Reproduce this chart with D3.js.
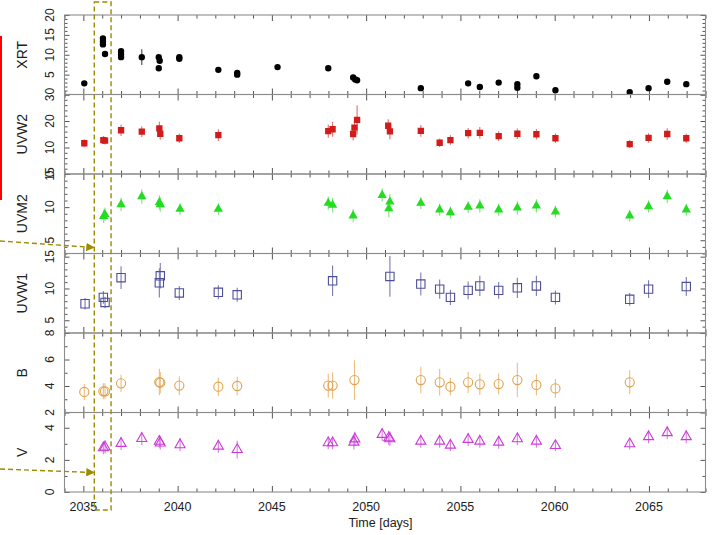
<!DOCTYPE html>
<html lang="en">
<head>
<meta charset="UTF-8"/>
<title>Multi-band light curves</title>
<script src="https://d3js.org/d3.v7.min.js"></script>
<style>
  body { margin: 0; background: #fff; }
  svg { display: block; font-family: "Liberation Sans", Arial, sans-serif; }
  .frame { stroke: #8c8c8c; stroke-width: 1.1; fill: none; }
  .ylab { font-size: 12px; fill: #222; }
  .ytitle { font-size: 14px; fill: #222; }
  .xlab { font-size: 12.5px; fill: #222; }
</style>
</head>
<body>
<svg id="chart" width="716" height="535"></svg>
<script>
// time axis
const xDomain = [2034, 2068];
const xLabels = [2035, 2040, 2045, 2050, 2055, 2060, 2065];

// XRT count rate
const tXRT = [2035.05, 2036.04, 2036.04, 2036.04, 2036.15, 2037.0, 2037.0, 2037.0, 2038.1, 2039.0, 2039.05, 2039.0,
  2040.09, 2040.09, 2042.16, 2043.16, 2043.16, 2045.3, 2047.99, 2049.31, 2049.42, 2049.52, 2052.9, 2055.41, 2056.03,
  2057.03, 2058.02, 2058.02, 2059.03, 2060.04, 2063.98, 2064.98, 2065.97, 2066.98];
const vXRT = [2.8, 14.1, 13.3, 12.6, 10.2, 10.9, 10.1, 9.4, 9.4, 9.4, 8.5, 6.6,
  9.4, 9.0, 6.2, 5.4, 5.0, 6.9, 6.6, 4.3, 3.8, 3.6, 1.6, 2.8, 1.9,
  3.0, 2.6, 1.7, 4.6, 1.1, 0.55, 1.6, 3.2, 2.6];
const eXRT = [0.3, 0.3, 0.3, 0.3, 0.3, 0.3, 0.3, 0.3, 2.0, 0.3, 0.3, 0.3,
  0.3, 0.3, 0.3, 0.3, 0.3, 0.3, 0.3, 0.3, 0.3, 0.3, 0.3, 0.3, 0.3,
  0.3, 0.3, 0.3, 0.3, 0.3, 0.3, 0.3, 0.3, 0.3];

// UVW2
const tUVW2 = [2035.05, 2036.06, 2036.15, 2037.0, 2038.1, 2039.03, 2039.08, 2040.09, 2042.16, 2047.99, 2048.22,
  2049.31, 2049.38, 2049.52, 2051.17, 2051.26, 2052.9, 2053.9, 2054.47, 2055.41, 2056.03, 2057.03, 2058.02,
  2059.03, 2060.04, 2063.98, 2064.98, 2065.97, 2066.98];
const vUVW2 = [11.6, 12.8, 12.6, 16.5, 16.0, 17.2, 15.2, 13.5, 14.7, 16.2, 16.9,
  15.1, 17.5, 20.4, 18.2, 16.1, 16.3, 11.8, 12.8, 15.4, 15.5, 14.3, 15.2,
  15.0, 13.5, 11.3, 13.6, 15.1, 13.5];
const eUVW2 = [1.5, 1.5, 1.5, 2.2, 2.0, 2.5, 2.3, 1.8, 2.2, 2.5, 2.8,
  2.5, 3.0, 5.5, 2.5, 3.0, 2.2, 1.6, 1.8, 2.0, 2.2, 1.8, 2.0,
  2.0, 1.8, 1.5, 1.8, 2.2, 1.8];

// UVM2
const tUVM2 = [2036.08, 2036.14, 2037.0, 2038.1, 2039.03, 2039.08, 2040.13, 2042.16, 2047.99, 2048.22, 2049.31,
  2050.85, 2051.2, 2051.26, 2052.9, 2053.9, 2054.47, 2055.41, 2056.03, 2057.03, 2058.02, 2059.03, 2060.04,
  2063.98, 2064.98, 2065.97, 2066.98];
const vUVM2 = [8.6, 8.9, 10.4, 11.6, 10.7, 10.4, 9.7, 9.7, 10.6, 10.3, 8.7,
  11.8, 9.8, 10.8, 10.6, 9.6, 9.2, 10.0, 10.2, 9.6, 9.9, 10.2, 9.3,
  8.7, 10.1, 11.6, 9.6];
const eUVM2 = [1.0, 1.0, 1.0, 1.1, 1.1, 1.1, 0.9, 0.9, 1.0, 1.1, 1.0,
  1.0, 1.3, 1.2, 0.9, 0.9, 0.9, 0.9, 1.0, 0.9, 1.0, 1.0, 0.9,
  0.9, 0.9, 1.0, 0.9];

// UVW1
const tUVW1 = [2035.09, 2036.06, 2036.15, 2037.0, 2039.03, 2039.08, 2040.09, 2042.16, 2043.16, 2048.22, 2051.26,
  2052.9, 2053.9, 2054.47, 2055.41, 2056.03, 2057.03, 2058.02, 2059.03, 2060.04, 2063.98, 2064.98, 2066.98];
const vUVW1 = [7.6, 8.6, 7.8, 11.7, 10.9, 12.0, 9.3, 9.4, 9.0, 11.2, 11.9,
  10.7, 9.9, 8.6, 9.7, 10.4, 9.7, 10.1, 10.4, 8.6, 8.3, 9.9, 10.3];
const eUVW1 = [0.9, 1.0, 0.9, 1.8, 2.3, 2.0, 1.1, 1.1, 1.1, 2.4, 3.2,
  1.8, 1.5, 1.2, 1.4, 1.6, 1.3, 1.6, 1.6, 1.1, 1.0, 1.4, 1.5];

// B
const tB = [2035.05, 2036.06, 2036.15, 2037.0, 2039.03, 2039.08, 2040.09, 2042.16, 2043.16, 2047.99, 2048.22,
  2049.38, 2052.9, 2053.9, 2054.47, 2055.41, 2056.03, 2057.03, 2058.02, 2059.03, 2060.04, 2063.98];
const vB = [3.55, 3.6, 3.6, 4.2, 4.3, 4.25, 4.03, 3.95, 4.0, 4.03, 4.03,
  4.45, 4.45, 4.28, 3.95, 4.28, 4.13, 4.15, 4.45, 4.08, 3.82, 4.28];
const eB = [0.6, 0.6, 0.6, 0.65, 1.0, 0.8, 0.7, 0.7, 0.7, 0.9, 1.0,
  1.5, 1.0, 1.0, 0.65, 0.8, 0.8, 0.8, 1.3, 0.8, 0.7, 0.9];

// V
const tV = [2036.06, 2036.15, 2037.0, 2038.1, 2039.03, 2039.08, 2040.13, 2042.16, 2043.16, 2047.99, 2048.22,
  2049.35, 2049.4, 2050.85, 2051.2, 2051.26, 2052.9, 2053.9, 2054.47, 2055.41, 2056.03, 2057.03, 2058.02,
  2059.03, 2060.04, 2063.98, 2064.98, 2065.97, 2066.98];
const vV = [2.75, 2.8, 3.02, 3.33, 3.15, 3.05, 2.94, 2.85, 2.64, 3.06, 3.06,
  3.1, 3.3, 3.58, 3.37, 3.31, 3.16, 3.16, 2.91, 3.27, 3.16, 3.1, 3.31,
  3.16, 2.89, 3.0, 3.44, 3.69, 3.44];
const eV = [0.4, 0.4, 0.4, 0.4, 0.4, 0.4, 0.4, 0.4, 0.55, 0.4, 0.4,
  0.45, 0.45, 0.4, 0.45, 0.45, 0.4, 0.4, 0.35, 0.4, 0.4, 0.4, 0.4,
  0.4, 0.35, 0.35, 0.4, 0.4, 0.4];

// panel settings, built from the arrays above
const panels = [
  { name: 'XRT',  t: tXRT, v: vXRT, e: eXRT, dom: [0, 20], labels: [5, 10, 15, 20], majors: [0, 5, 10, 15, 20], step: 1,
    sym: d3.symbolCircle, size: 32, fill: '#000', stroke: 'none', ecol: '#444' },
  { name: 'UVW2', t: tUVW2, v: vUVW2, e: eUVW2, dom: [0, 30], labels: [0, 10, 20, 30], majors: [0, 10, 20, 30], step: 2,
    sym: d3.symbolSquare, size: 40, fill: '#d21c1c', stroke: 'none', ecol: '#e27070' },
  { name: 'UVM2', t: tUVM2, v: vUVM2, e: eUVM2, dom: [3, 15], labels: [5, 10, 15], majors: [5, 10, 15], step: 1,
    sym: d3.symbolTriangle, size: 38, fill: '#22dd22', stroke: 'none', ecol: '#80e080' },
  { name: 'UVW1', t: tUVW1, v: vUVW1, e: eUVW1, dom: [3, 15.5], labels: [5, 10, 15], majors: [5, 10, 15], step: 1,
    sym: d3.symbolSquare, size: 70, fill: 'none', stroke: '#4d4d99', ecol: '#7a7ab5' },
  { name: 'B',    t: tB, v: vB, e: eB, dom: [2, 8], labels: [2, 4, 6, 8], majors: [2, 4, 6, 8], step: 1,
    sym: d3.symbolCircle, size: 66, fill: 'none', stroke: '#e0a24f', ecol: '#ebbd7e' },
  { name: 'V',    t: tV, v: vV, e: eV, dom: [0, 4.95], labels: [0, 2, 4], majors: [0, 2, 4], step: 1,
    sym: d3.symbolTriangle, size: 44, fill: 'none', stroke: '#cc3bd8', ecol: '#d97de2' }
];

const svg = d3.select('#chart');
const L = 64.5, R = 705.5, T = 15, B = 492;
const ph = (B - T) / panels.length;
const x = d3.scaleLinear().domain(xDomain).range([L, R]);
const dayTicks = d3.range(xDomain[0], xDomain[1] + 1);
const majorDays = dayTicks.filter(d => d % 5 === 0);
const minorDays = dayTicks.filter(d => d % 5 !== 0);

panels.forEach((p, i) => {
  const y0 = T + i * ph, y1 = y0 + ph;
  const y = d3.scaleLinear().domain(p.dom).range([y1, y0]);
  const g = svg.append('g');
  const clipId = 'clip' + i;
  svg.append('clipPath').attr('id', clipId)
    .append('rect').attr('x', L).attr('y', y0).attr('width', R - L).attr('height', ph);

  // x ticks, pointing inwards at top and bottom of each panel
  const addX = (axisFn, ypos, vals, len) => {
    g.append('g').attr('transform', `translate(0,${ypos})`)
      .call(axisFn(x).tickValues(vals).tickSize(-len).tickFormat(''))
      .call(a => a.select('.domain').remove())
      .selectAll('line').attr('stroke', '#555');
  };
  addX(d3.axisTop, y0, majorDays, 6);
  addX(d3.axisTop, y0, minorDays, 3.5);
  addX(d3.axisBottom, y1, majorDays, 6);
  addX(d3.axisBottom, y1, minorDays, 3.5);

  // y ticks on both sides
  const minors = d3.range(Math.ceil(p.dom[0] / p.step) * p.step, p.dom[1] + 1e-9, p.step)
    .filter(v => !p.majors.includes(v));
  const addY = (axisFn, xpos, vals, len) => {
    g.append('g').attr('transform', `translate(${xpos},0)`)
      .call(axisFn(y).tickValues(vals).tickSize(-len).tickFormat(''))
      .call(a => a.select('.domain').remove())
      .selectAll('line').attr('stroke', '#555');
  };
  addY(d3.axisLeft, L, p.majors, 5);
  addY(d3.axisLeft, L, minors, 3);
  addY(d3.axisRight, R, p.majors, 5);
  addY(d3.axisRight, R, minors, 3);

  // rotated tick labels
  g.selectAll('text.ylab').data(p.labels).join('text')
    .attr('class', 'ylab')
    .attr('transform', d => `translate(54,${y(d)}) rotate(-90)`)
    .attr('text-anchor', 'middle')
    .text(d => d);

  g.append('text').attr('class', 'ytitle')
    .attr('transform', `translate(27,${(y0 + y1) / 2}) rotate(-90)`)
    .attr('text-anchor', 'middle')
    .text(p.name);

  // error bars and markers
  const pts = p.t.map((t, k) => ({ t, v: p.v[k], e: p.e[k] }));
  const dg = g.append('g').attr('clip-path', `url(#${clipId})`);
  dg.selectAll('line.err').data(pts).join('line')
    .attr('x1', d => x(d.t)).attr('x2', d => x(d.t))
    .attr('y1', d => y(d.v - d.e)).attr('y2', d => y(d.v + d.e))
    .attr('stroke', p.ecol).attr('stroke-width', 1.1);
  dg.selectAll('path.pt').data(pts).join('path')
    .attr('transform', d => `translate(${x(d.t)},${y(d.v)})`)
    .attr('d', d3.symbol().type(p.sym).size(p.size))
    .attr('fill', p.fill).attr('stroke', p.stroke).attr('stroke-width', 1.1);

  // panel frame
  g.append('rect').attr('class', 'frame')
    .attr('x', L).attr('y', y0).attr('width', R - L).attr('height', ph);
});

// bottom time labels
svg.selectAll('text.xlab').data(xLabels).join('text')
  .attr('class', 'xlab')
  .attr('x', d => x(d)).attr('y', 510.5)
  .attr('text-anchor', 'middle')
  .text(d => d);
svg.append('text').attr('class', 'xlab')
  .attr('x', 380.5).attr('y', 527).attr('text-anchor', 'middle')
  .text('Time [days]');

// annotations: dashed zoom box and pointers
const olive = '#9c8c00';
svg.append('defs').append('marker')
  .attr('id', 'arr').attr('markerWidth', 6).attr('markerHeight', 6)
  .attr('refX', 5).attr('refY', 3).attr('orient', 'auto')
  .append('path').attr('d', 'M0,0 L6,3 L0,6 Z').attr('fill', olive);
const boxL = x(2035.58), boxR = x(2036.47);
svg.append('rect')
  .attr('x', boxL).attr('y', 2).attr('width', boxR - boxL).attr('height', 508)
  .attr('fill', 'none').attr('stroke', olive).attr('stroke-width', 1.4).attr('stroke-dasharray', '5,3');
[[241, 247.5], [469, 472.5]].forEach(([ya, yb]) => {
  svg.append('line')
    .attr('x1', 0).attr('y1', ya).attr('x2', boxL - 1).attr('y2', yb)
    .attr('stroke', olive).attr('stroke-width', 1.4).attr('stroke-dasharray', '5,3')
    .attr('marker-end', 'url(#arr)');
});
svg.append('line')
  .attr('x1', 1).attr('y1', 36).attr('x2', 1).attr('y2', 200)
  .attr('stroke', '#f00').attr('stroke-width', 2);
</script>
</body>
</html>
